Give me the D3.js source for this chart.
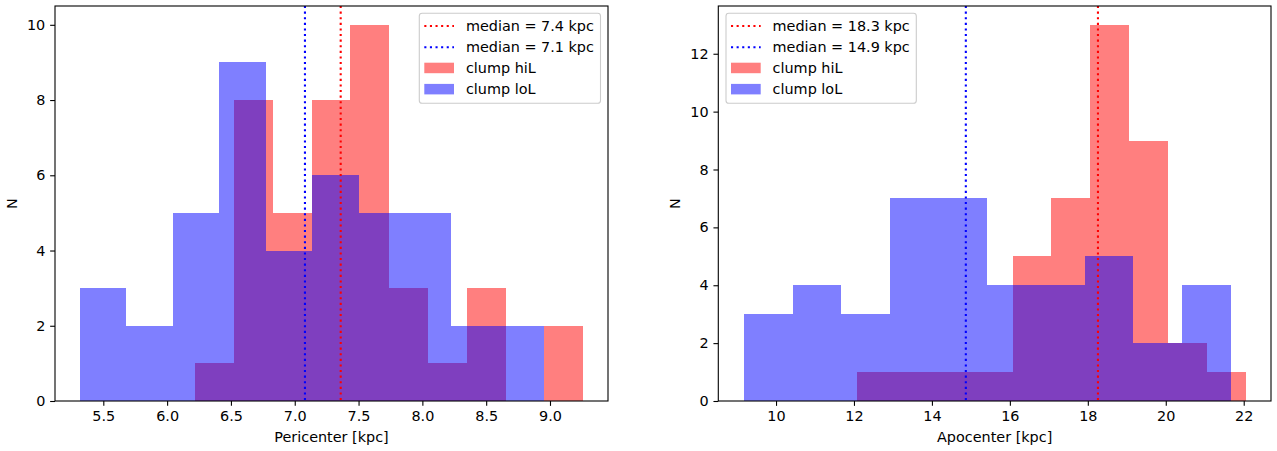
<!DOCTYPE html>
<html>
<head>
<meta charset="utf-8">
<script src="https://cdn.jsdelivr.net/npm/d3@7"></script>
<style>
  html, body { margin: 0; padding: 0; background: #fff; }
  svg { display: block; font-family: "DejaVu Sans", sans-serif; }
</style>
</head>
<body>
<svg id="chart" width="1277" height="451"></svg>
<script>
// Histogram counts per bin (10 equal-width bins spanning each sample's range)
const periHiLCounts = [1, 8, 5, 8, 10, 3, 1, 3, 0, 2];
const periLoLCounts = [3, 2, 5, 9, 4, 6, 5, 5, 2, 2];
const periHiLRange = [6.22, 9.26];
const periLoLRange = [5.317, 8.956];
const periMedians = [7.36, 7.08];           // hiL, loL
const periMedianLabels = ["median = 7.4 kpc", "median = 7.1 kpc"];
const periXTicks = [5.5, 6.0, 6.5, 7.0, 7.5, 8.0, 8.5, 9.0];
const periYTicks = [0, 2, 4, 6, 8, 10];

const apoHiLCounts = [1, 1, 1, 1, 5, 7, 13, 9, 2, 1];
const apoLoLCounts = [3, 4, 3, 7, 7, 4, 4, 5, 2, 4];
const apoHiLRange = [12.08, 22.05];
const apoLoLRange = [9.178, 21.67];
const apoMedians = [18.26, 14.87];
const apoMedianLabels = ["median = 18.3 kpc", "median = 14.9 kpc"];
const apoXTicks = [10, 12, 14, 16, 18, 20, 22];
const apoYTicks = [0, 2, 4, 6, 8, 10, 12];

const seriesNames = ["clump hiL", "clump loL"];
const FONT = 14.4;
const TICK = 4.86;
const svg = d3.select("#chart");

// Turn counts + range into bins with equal-width edges
function toBins(counts, range) {
  const w = (range[1] - range[0]) / counts.length;
  return counts.map((c, i) => ({ x0: range[0] + i * w, x1: range[0] + (i + 1) * w, n: c }));
}

function drawPanel(p) {
  const g = svg.append("g");
  const x = d3.scaleLinear().domain(p.xDomain).range([p.left, p.right]);
  const y = d3.scaleLinear().domain(p.yDomain).range([p.bottom, p.top]);

  // histogram bars: hiL first, loL drawn over it
  const series = [
    { bins: toBins(p.hiL, p.hiLRange), color: "rgba(255,0,0,0.5)" },
    { bins: toBins(p.loL, p.loLRange), color: "rgba(0,0,255,0.5)" }
  ];
  series.forEach(s => {
    g.append("g").attr("shape-rendering", "crispEdges").selectAll("rect")
      .data(s.bins.filter(b => b.n > 0))
      .join("rect")
      .attr("x", b => x(b.x0))
      .attr("width", b => x(b.x1) - x(b.x0))
      .attr("y", b => y(b.n))
      .attr("height", b => y(0) - y(b.n))
      .attr("fill", s.color);
  });

  // median lines
  const medColors = ["#ff0000", "#0000ff"];
  p.medians.forEach((m, i) => {
    g.append("line")
      .attr("x1", x(m)).attr("x2", x(m))
      .attr("y1", p.top).attr("y2", p.bottom)
      .attr("stroke", medColors[i])
      .attr("stroke-width", 2.1)
      .attr("stroke-dasharray", "2.1,3.5");
  });

  // frame
  g.append("rect")
    .attr("x", p.left).attr("y", p.top)
    .attr("width", p.right - p.left).attr("height", p.bottom - p.top)
    .attr("fill", "none").attr("stroke", "#000").attr("stroke-width", 1.1);

  // x axis
  const xAxis = d3.axisBottom(x).tickValues(p.xTicks).tickFormat(p.xFormat)
    .tickSizeInner(TICK).tickSizeOuter(0).tickPadding(4.86);
  const gx = g.append("g").attr("transform", `translate(0,${p.bottom})`).call(xAxis);
  gx.select(".domain").remove();
  gx.selectAll(".tick line").attr("stroke", "#000").attr("stroke-width", 1.1);
  gx.selectAll(".tick text").attr("font-size", FONT).attr("fill", "#000")
    .attr("font-family", "DejaVu Sans");

  // y axis
  const yAxis = d3.axisLeft(y).tickValues(p.yTicks).tickFormat(d3.format("d"))
    .tickSizeInner(TICK).tickSizeOuter(0).tickPadding(4.86);
  const gy = g.append("g").attr("transform", `translate(${p.left},0)`).call(yAxis);
  gy.select(".domain").remove();
  gy.selectAll(".tick line").attr("stroke", "#000").attr("stroke-width", 1.1);
  gy.selectAll(".tick text").attr("font-size", FONT).attr("fill", "#000")
    .attr("font-family", "DejaVu Sans");

  // axis labels
  g.append("text")
    .attr("x", (p.left + p.right) / 2).attr("y", 442)
    .attr("text-anchor", "middle").attr("font-size", FONT).attr("fill", "#000")
    .text(p.xLabel);
  g.append("text")
    .attr("transform", `translate(${p.yLabelX},${(p.top + p.bottom) / 2}) rotate(-90)`)
    .attr("text-anchor", "middle").attr("font-size", FONT).attr("fill", "#000")
    .text("N");

  // legend
  const L = p.legend;
  const lg = g.append("g");
  lg.append("rect")
    .attr("x", L.x).attr("y", 13.3).attr("width", L.w).attr("height", 90)
    .attr("rx", 2.8).attr("ry", 2.8)
    .attr("fill", "rgba(255,255,255,0.8)").attr("stroke", "#cccccc").attr("stroke-width", 1.1);
  const rowY = [26, 47.3, 68, 89.2];
  const hx0 = L.x + 5, hx1 = L.x + 34.7, tx = L.x + 46.6;
  p.medianLabels.forEach((lab, i) => {
    lg.append("line")
      .attr("x1", hx0).attr("x2", hx1).attr("y1", rowY[i]).attr("y2", rowY[i])
      .attr("stroke", medColors[i]).attr("stroke-width", 2.1)
      .attr("stroke-dasharray", "2.1,3.5");
    lg.append("text").attr("x", tx).attr("y", rowY[i] + 5)
      .attr("font-size", FONT).attr("fill", "#000").text(lab);
  });
  seriesNames.forEach((nm, i) => {
    lg.append("rect")
      .attr("x", hx0).attr("width", hx1 - hx0)
      .attr("y", rowY[i + 2] - 5.3).attr("height", 10.5)
      .attr("fill", series[i].color);
    lg.append("text").attr("x", tx).attr("y", rowY[i + 2] + 5)
      .attr("font-size", FONT).attr("fill", "#000").text(nm);
  });
}

drawPanel({
  left: 55, right: 608, top: 6, bottom: 401,
  xDomain: [5.1215, 9.4545], yDomain: [0, 10.5],
  hiL: periHiLCounts, loL: periLoLCounts,
  hiLRange: periHiLRange, loLRange: periLoLRange,
  medians: periMedians, medianLabels: periMedianLabels,
  xTicks: periXTicks, yTicks: periYTicks, xFormat: d3.format(".1f"),
  xLabel: "Pericenter [kpc]", yLabelX: 17,
  legend: { x: 419.3, w: 181.2 }
});

drawPanel({
  left: 718.3, right: 1271, top: 6, bottom: 401,
  xDomain: [8.519, 22.70], yDomain: [0, 13.65],
  hiL: apoHiLCounts, loL: apoLoLCounts,
  hiLRange: apoHiLRange, loLRange: apoLoLRange,
  medians: apoMedians, medianLabels: apoMedianLabels,
  xTicks: apoXTicks, yTicks: apoYTicks, xFormat: d3.format("d"),
  xLabel: "Apocenter [kpc]", yLabelX: 680,
  legend: { x: 726, w: 190.3 }
});
</script>
</body>
</html>
